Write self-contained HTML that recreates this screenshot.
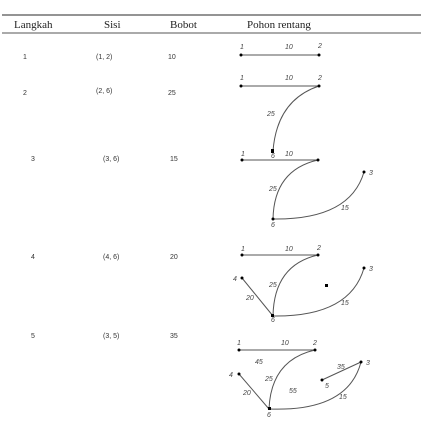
<!DOCTYPE html>
<html><head><meta charset="utf-8"><style>
html,body{margin:0;padding:0;background:#fff;width:437px;height:422px;overflow:hidden}
svg{display:block}
.h{font-family:"Liberation Serif",serif;font-size:11px;fill:#222}
.t{font-family:"Liberation Sans",sans-serif;font-size:7px;fill:#333}
.l{font-family:"Liberation Sans",sans-serif;font-size:7px;fill:#444;font-style:italic}
.e{stroke:#555;stroke-width:1;fill:none}
</style></head><body>
<svg width="437" height="422">
<line x1="2" y1="15" x2="421" y2="15" stroke="#555" stroke-width="1.2"/>
<line x1="2" y1="33" x2="421" y2="33" stroke="#555" stroke-width="1"/>
<g>
<text class="h" x="14" y="28">Langkah</text>
<text class="h" x="104" y="28">Sisi</text>
<text class="h" x="170" y="28">Bobot</text>
<text class="h" x="247" y="28">Pohon rentang</text>
</g>
<g>
<text class="t" x="23" y="59">1</text><text class="t" x="96" y="59">(1, 2)</text><text class="t" x="168" y="59">10</text>
<line class="e" x1="241" y1="55" x2="319" y2="55"/>
<circle cx="241" cy="55" r="1.5"/><circle cx="319" cy="55" r="1.5"/>
<text class="l" x="240" y="49">1</text><text class="l" x="285" y="49">10</text><text class="l" x="318" y="48">2</text>
</g>
<g>
<text class="t" x="23" y="95">2</text><text class="t" x="96" y="93">(2, 6)</text><text class="t" x="168" y="95">25</text>
<line class="e" x1="241" y1="86" x2="319" y2="86"/>
<path class="e" d="M319 86 Q277 100 273 151"/>
<circle cx="241" cy="86" r="1.5"/><circle cx="319" cy="86" r="1.5"/><rect x="271" y="149" width="3" height="4"/>
<text class="l" x="240" y="80">1</text><text class="l" x="285" y="80">10</text><text class="l" x="318" y="80">2</text>
<text class="l" x="267" y="116">25</text><text class="l" x="271" y="158">6</text>
</g>
<g>
<text class="t" x="31" y="161">3</text><text class="t" x="103" y="161">(3, 6)</text><text class="t" x="170" y="161">15</text>
<line class="e" x1="242" y1="160" x2="318" y2="160"/>
<path class="e" d="M318 160 Q274 170 273 219"/>
<path class="e" d="M273 219 Q350 220 364 172"/>
<circle cx="242" cy="160" r="1.5"/><circle cx="318" cy="160" r="1.5"/><circle cx="364" cy="172" r="1.5"/><circle cx="273" cy="219" r="1.5"/>
<text class="l" x="241" y="156">1</text><text class="l" x="285" y="156">10</text>
<text class="l" x="269" y="191">25</text><text class="l" x="271" y="227">6</text><text class="l" x="341" y="210">15</text><text class="l" x="369" y="175">3</text>
</g>
<g>
<text class="t" x="31" y="259">4</text><text class="t" x="103" y="259">(4, 6)</text><text class="t" x="170" y="259">20</text>
<line class="e" x1="242" y1="255" x2="318" y2="255"/>
<path class="e" d="M318 255 Q274 265 273 316"/>
<path class="e" d="M273 316 Q350 317 364 268"/>
<line class="e" x1="242" y1="278" x2="273" y2="316"/>
<circle cx="242" cy="255" r="1.5"/><circle cx="318" cy="255" r="1.5"/><circle cx="364" cy="268" r="1.5"/><circle cx="242" cy="278" r="1.5"/><rect x="271" y="314" width="3" height="3"/><rect x="325" y="284" width="3" height="3"/>
<text class="l" x="241" y="251">1</text><text class="l" x="285" y="251">10</text><text class="l" x="317" y="250">2</text>
<text class="l" x="233" y="281">4</text><text class="l" x="246" y="300">20</text><text class="l" x="269" y="287">25</text><text class="l" x="271" y="322">6</text><text class="l" x="341" y="305">15</text><text class="l" x="369" y="271">3</text>
</g>
<g>
<text class="t" x="31" y="338">5</text><text class="t" x="103" y="338">(3, 5)</text><text class="t" x="170" y="338">35</text>
<line class="e" x1="239" y1="350" x2="315" y2="350"/>
<path class="e" d="M315 350 Q271 360 269 409"/>
<path class="e" d="M269 409 Q348 412 361 362"/>
<line class="e" x1="239" y1="374" x2="269" y2="409"/>
<line class="e" x1="322" y1="380" x2="361" y2="362"/>
<circle cx="239" cy="350" r="1.5"/><circle cx="315" cy="350" r="1.5"/><circle cx="361" cy="362" r="1.5"/><circle cx="239" cy="374" r="1.5"/><circle cx="322" cy="380" r="1.5"/><rect x="268" y="407" width="3" height="3"/>
<text class="l" x="237" y="345">1</text><text class="l" x="281" y="345">10</text><text class="l" x="313" y="345">2</text>
<text class="l" x="255" y="364">45</text><text class="l" x="229" y="377">4</text><text class="l" x="265" y="381">25</text><text class="l" x="289" y="393">55</text>
<text class="l" x="337" y="369">35</text><text class="l" x="325" y="388">5</text><text class="l" x="366" y="365">3</text>
<text class="l" x="243" y="395">20</text><text class="l" x="339" y="399">15</text><text class="l" x="267" y="417">6</text>
</g>
</svg>
</body></html>
